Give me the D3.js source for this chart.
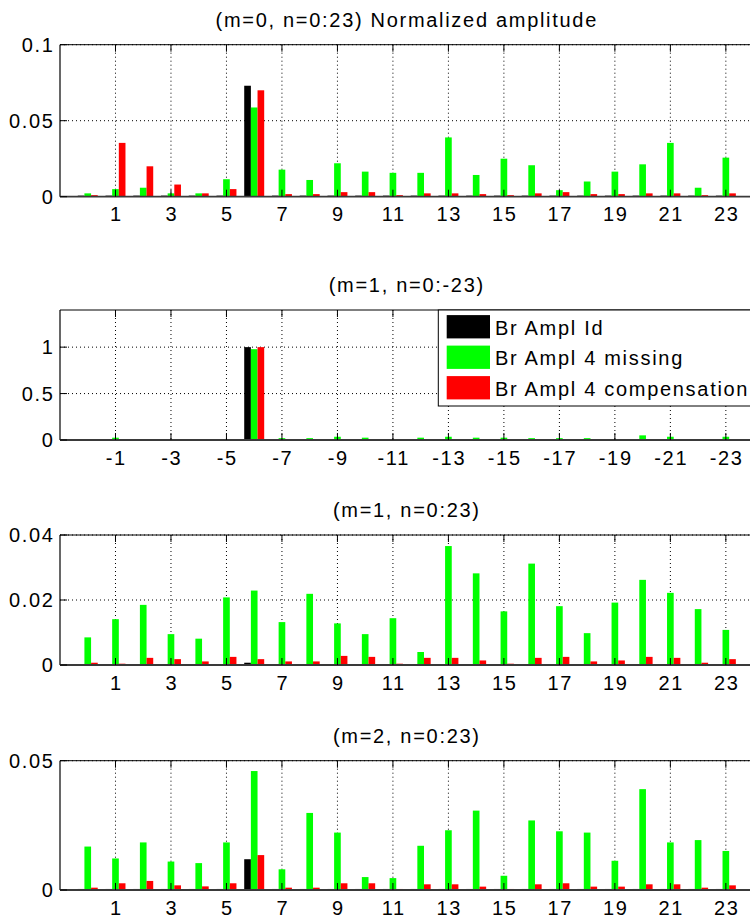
<!DOCTYPE html>
<html>
<head>
<meta charset="utf-8">
<script src="https://cdn.jsdelivr.net/npm/d3@7/dist/d3.min.js"></script>
<style>
  body { margin: 0; background: #fff; }
  svg { display: block; }
  text { font-family: "Liberation Sans", Arial, Helvetica, sans-serif; font-size: 20px; letter-spacing: 1.7px; fill: #000; }
</style>
</head>
<body>
<svg id="chart" width="750" height="919"></svg>
<script>
// Harmonic index n for each bar group
const harmonics = [0, 1, 2, 3, 4, 5, 6, 7, 8, 9, 10, 11, 12, 13, 14, 15, 16, 17, 18, 19, 20, 21, 22, 23];

const seriesNames = ["Br Ampl Id", "Br Ampl 4 missing", "Br Ampl 4 compensation"];
const seriesColors = ["#000000", "#00ff00", "#ff0000"];

// Odd harmonics carry ticks and grid lines
const xTickValues = [1, 3, 5, 7, 9, 11, 13, 15, 17, 19, 21, 23];
const xTickLabelsPos = ["1", "3", "5", "7", "9", "11", "13", "15", "17", "19", "21", "23"];
const xTickLabelsNeg = ["-1", "-3", "-5", "-7", "-9", "-11", "-13", "-15", "-17", "-19", "-21", "-23"];

const panelTitles = [
  "(m=0, n=0:23) Normalized amplitude",
  "(m=1, n=0:-23)",
  "(m=1, n=0:23)",
  "(m=2, n=0:23)"
];
const panelYMax = [0.1, 1.4, 0.04, 0.05];
const panelYTicks = [
  [0, 0.05, 0.1],
  [0, 0.5, 1],
  [0, 0.02, 0.04],
  [0, 0.05]
];
const panelYTickLabels = [
  ["0", "0.05", "0.1"],
  ["0", "0.5", "1"],
  ["0", "0.02", "0.04"],
  ["0", "0.05"]
];

// (m=0, n=0:23)
const m0Id      = [0.0007, 0.0007, 0.0007, 0.0007, 0.0007, 0.0007, 0.073, 0.0007, 0.0007, 0.0007, 0.0007, 0.0007, 0.0007, 0.0007, 0.0007, 0.0007, 0.0007, 0.0007, 0.0007, 0.0007, 0.0007, 0.0007, 0.0007, 0.0007];
const m0Missing = [0.0022, 0.005, 0.0059, 0.0022, 0.0022, 0.0115, 0.0587, 0.0178, 0.011, 0.022, 0.0165, 0.0157, 0.0157, 0.039, 0.0143, 0.025, 0.0207, 0.0043, 0.010, 0.0165, 0.0213, 0.0354, 0.0059, 0.0257];
const m0Comp    = [0.001, 0.0354, 0.020, 0.008, 0.0022, 0.005, 0.070, 0.0017, 0.0017, 0.003, 0.003, 0.001, 0.0022, 0.0022, 0.0017, 0.001, 0.0022, 0.003, 0.0017, 0.0017, 0.0022, 0.0022, 0.001, 0.0022];

// (m=1, n=0:-23)
const m1NegId      = [0.008, 0.008, 0.008, 0.008, 0.008, 0.008, 1.0, 0.008, 0.008, 0.008, 0.008, 0.008, 0.008, 0.008, 0.008, 0.008, 0.008, 0.008, 0.008, 0.008, 0.008, 0.008, 0.008, 0.008];
const m1NegMissing = [0.006, 0.025, 0.006, 0.006, 0.006, 0.006, 0.978, 0.02, 0.02, 0.035, 0.025, 0.006, 0.025, 0.035, 0.025, 0.025, 0.02, 0.02, 0.02, 0.006, 0.05, 0.035, 0.006, 0.035];
const m1NegComp    = [0.01, 0.01, 0.01, 0.01, 0.01, 0.01, 1.0, 0.01, 0.01, 0.01, 0.01, 0.01, 0.01, 0.01, 0.01, 0.01, 0.01, 0.01, 0.01, 0.01, 0.01, 0.01, 0.01, 0.01];

// (m=1, n=0:23)
const m1Id      = [0.0003, 0.0003, 0.0003, 0.0003, 0.0003, 0.0003, 0.0007, 0.0003, 0.0003, 0.0003, 0.0003, 0.0003, 0.0003, 0.0003, 0.0003, 0.0003, 0.0003, 0.0003, 0.0003, 0.0003, 0.0003, 0.0003, 0.0003, 0.0003];
const m1Missing = [0.0085, 0.0141, 0.0185, 0.0095, 0.0081, 0.0208, 0.0229, 0.0132, 0.0219, 0.0128, 0.0095, 0.0144, 0.004, 0.0366, 0.0282, 0.0165, 0.0312, 0.0181, 0.0098, 0.0192, 0.0262, 0.0222, 0.0172, 0.0108];
const m1Comp    = [0.0007, 0.0004, 0.0022, 0.0018, 0.0011, 0.0025, 0.0018, 0.0011, 0.0011, 0.0028, 0.0025, 0.0004, 0.0022, 0.0022, 0.0014, 0.0004, 0.0022, 0.0025, 0.0011, 0.0014, 0.0025, 0.0022, 0.0007, 0.0018];

// (m=2, n=0:23)
const m2Id      = [0.0004, 0.0004, 0.0004, 0.0004, 0.0004, 0.0004, 0.0119, 0.0004, 0.0004, 0.0004, 0.0004, 0.0004, 0.0004, 0.0004, 0.0004, 0.0004, 0.0004, 0.0004, 0.0004, 0.0004, 0.0004, 0.0004, 0.0004, 0.0004];
const m2Missing = [0.0168, 0.0122, 0.0184, 0.011, 0.0104, 0.0184, 0.046, 0.008, 0.0298, 0.0222, 0.005, 0.0046, 0.0171, 0.0231, 0.0307, 0.0055, 0.0269, 0.0227, 0.0222, 0.0113, 0.039, 0.0184, 0.0193, 0.0151];
const m2Comp    = [0.0009, 0.0026, 0.0035, 0.0018, 0.0014, 0.0026, 0.0135, 0.0009, 0.0009, 0.0026, 0.0026, 0.0004, 0.0022, 0.0022, 0.0013, 0.0004, 0.0022, 0.0026, 0.0013, 0.0013, 0.0022, 0.0022, 0.0009, 0.0018];

const panelSeries = [
  [m0Id, m0Missing, m0Comp],
  [m1NegId, m1NegMissing, m1NegComp],
  [m1Id, m1Missing, m1Comp],
  [m2Id, m2Missing, m2Comp]
];
const panelXLabels = [xTickLabelsPos, xTickLabelsNeg, xTickLabelsPos, xTickLabelsPos];

// Layout
const plotLeft = 60, plotRight = 753.6;
const panelBox = [
  { top: 44.7, bottom: 196.7 },
  { top: 310, bottom: 440 },
  { top: 535, bottom: 665 },
  { top: 760.7, bottom: 890 }
];
const tickLen = 7;

const svg = d3.select("#chart");

const x = d3.scaleLinear().domain([-1, 24]).range([plotLeft, plotRight]);
const groupWidth = x(0.72) - x(0);
const xSub = d3.scaleBand().domain([0, 1, 2]).range([-groupWidth / 2, groupWidth / 2]).padding(0);

panelSeries.forEach((series, p) => {
  const box = panelBox[p];
  const y = d3.scaleLinear().domain([0, panelYMax[p]]).range([box.bottom, box.top]);
  const g = svg.append("g");

  // Dotted grid
  g.selectAll("line.vgrid").data(xTickValues).join("line")
    .attr("x1", d => x(d)).attr("x2", d => x(d))
    .attr("y1", box.top).attr("y2", box.bottom)
    .attr("stroke", "#000").attr("stroke-width", 1)
    .attr("stroke-dasharray", "1,3");
  g.selectAll("line.hgrid").data(panelYTicks[p].filter(v => v > 0)).join("line")
    .attr("x1", plotLeft).attr("x2", plotRight)
    .attr("y1", d => y(d)).attr("y2", d => y(d))
    .attr("stroke", "#000").attr("stroke-width", 1)
    .attr("stroke-dasharray", "1,3");

  // Grouped bars
  series.forEach((vals, s) => {
    g.append("g").selectAll("rect").data(harmonics).join("rect")
      .attr("x", n => x(n) + xSub(s))
      .attr("width", xSub.bandwidth())
      .attr("y", n => y(vals[n]))
      .attr("height", n => y(0) - y(vals[n]))
      .attr("fill", seriesColors[s]);
  });

  // Axes frame
  g.append("line").attr("x1", plotLeft).attr("x2", plotRight).attr("y1", box.top).attr("y2", box.top)
    .attr("stroke", "#000").attr("stroke-width", 1);
  g.append("line").attr("x1", plotLeft).attr("x2", plotLeft).attr("y1", box.top).attr("y2", box.bottom)
    .attr("stroke", "#000").attr("stroke-width", 1.2);
  g.append("line").attr("x1", plotLeft).attr("x2", plotRight).attr("y1", box.bottom).attr("y2", box.bottom)
    .attr("stroke", "#3a3a3a").attr("stroke-width", 1.8);

  // Inward tick marks
  g.selectAll("line.xtb").data(xTickValues).join("line")
    .attr("x1", d => x(d)).attr("x2", d => x(d))
    .attr("y1", box.bottom).attr("y2", box.bottom - tickLen)
    .attr("stroke", "#000");
  g.selectAll("line.xtt").data(xTickValues).join("line")
    .attr("x1", d => x(d)).attr("x2", d => x(d))
    .attr("y1", box.top).attr("y2", box.top + tickLen)
    .attr("stroke", "#000");
  g.selectAll("line.yt").data(panelYTicks[p]).join("line")
    .attr("x1", plotLeft).attr("x2", plotLeft + tickLen)
    .attr("y1", d => y(d)).attr("y2", d => y(d))
    .attr("stroke", "#000");

  // Tick labels
  g.selectAll("text.xl").data(xTickValues).join("text")
    .attr("x", d => x(d) + 0.85).attr("y", box.bottom + 24.5)
    .attr("text-anchor", "middle")
    .text((d, i) => panelXLabels[p][i]);
  g.selectAll("text.yl").data(panelYTicks[p]).join("text")
    .attr("x", 54.7).attr("y", d => y(d))
    .attr("text-anchor", "end").attr("dominant-baseline", "central")
    .text((d, i) => panelYTickLabels[p][i]);

  // Title
  g.append("text")
    .attr("x", (plotLeft + plotRight) / 2).attr("y", box.top - 18)
    .attr("text-anchor", "middle")
    .text(panelTitles[p]);
});

// Legend in the second panel
const legend = svg.append("g");
const legendLeft = 438.3, legendTop = 310;
legend.append("rect")
  .attr("x", legendLeft).attr("y", legendTop)
  .attr("width", 330).attr("height", 96)
  .attr("fill", "#fff").attr("stroke", "#000").attr("stroke-width", 1);
const legendRowY = d3.scalePoint().domain([0, 1, 2]).range([legendTop + 16.7, legendTop + 77.7]);
seriesNames.forEach((name, s) => {
  legend.append("rect")
    .attr("x", legendLeft + 8.4).attr("y", legendRowY(s) - 11.6)
    .attr("width", 43.3).attr("height", 23.3)
    .attr("fill", seriesColors[s]);
  legend.append("text")
    .attr("x", legendLeft + 56.7).attr("y", legendRowY(s) + 1)
    .attr("dominant-baseline", "central")
    .text(name);
});
</script>
</body>
</html>
